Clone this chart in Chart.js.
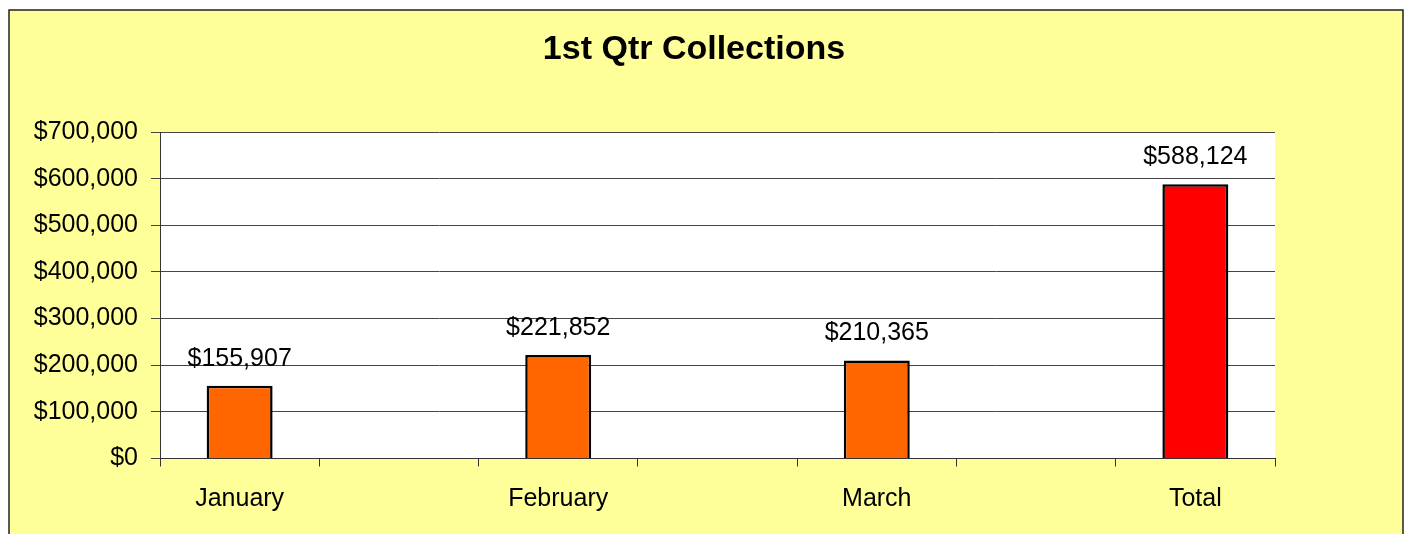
<!DOCTYPE html>
<html>
<head>
<meta charset="utf-8">
<script src="https://cdn.jsdelivr.net/npm/chart.js"></script>
<style>
  html, body { margin: 0; padding: 0; background: #fff; }
  #wrap { width: 1405px; height: 534px; position: relative; }
</style>
</head>
<body>
<div id="wrap"><canvas id="chart"></canvas></div>
<script>
// data
const chartTitle = '1st Qtr Collections';
const categories = ['January', 'February', 'March', 'Total'];
const collections = [155907, 221852, 210365, 588124];
const barColors = ['#FF6600', '#FF6600', '#FF6600', '#FF0000'];
const yTicks = [0, 100000, 200000, 300000, 400000, 500000, 600000, 700000];

// the original sheet leaves an empty column between each month
const labels = [];
const values = [];
const colors = [];
categories.forEach((c, i) => {
    if (i > 0) { labels.push(''); values.push(null); colors.push('#FF6600'); }
    labels.push(c);
    values.push(collections[i]);
    colors.push(barColors[i]);
});

const FONT = '"Liberation Sans", Arial, sans-serif';
const money = v => '$' + v.toLocaleString('en-US');

const frame = {
    id: 'frame',
    beforeDraw(chart) {
        const ctx = chart.ctx;
        ctx.save();
        ctx.fillStyle = '#FFFF99';
        ctx.fillRect(9, 10, 1394, 530);
        ctx.strokeStyle = '#222';
        ctx.lineWidth = 1.5;
        ctx.strokeRect(9, 10, 1394, 530);
        const a = chart.chartArea;
        ctx.fillStyle = '#FFFFFF';
        ctx.fillRect(a.left, a.top, a.right - a.left, a.bottom - a.top);
        // title, centred on the sheet frame
        ctx.fillStyle = '#000';
        ctx.font = 'bold 34px ' + FONT;
        ctx.textAlign = 'center';
        ctx.textBaseline = 'middle';
        ctx.fillText(chartTitle, 694, 50);
        ctx.restore();
    }
};

const valueLabels = {
    id: 'valueLabels',
    afterDatasetsDraw(chart) {
        const ctx = chart.ctx;
        const meta = chart.getDatasetMeta(0);
        ctx.save();
        ctx.font = '25px ' + FONT;
        ctx.fillStyle = '#000';
        ctx.textAlign = 'center';
        ctx.textBaseline = 'middle';
        meta.data.forEach((bar, i) => {
            const v = values[i];
            if (v == null) return;
            ctx.fillText(money(v), bar.x, bar.y - 27);
        });
        ctx.restore();
    }
};

new Chart(document.getElementById('chart'), {
    type: 'bar',
    data: {
        labels: labels,
        datasets: [{
            data: values,
            backgroundColor: colors,
            borderColor: '#000',
            borderWidth: 2.5,
            barPercentage: 0.414,
            categoryPercentage: 1
        }]
    },
    options: {
        responsive: true,
        maintainAspectRatio: false,
        animation: false,
        layout: { padding: { left: 0, right: 130, top: 132, bottom: 0 } },
        plugins: {
            legend: { display: false },
            tooltip: { enabled: false },
            title: { display: false }
        },
        scales: {
            x: {
                offset: true,
                grid: {
                    offset: true,
                    drawOnChartArea: false,
                    drawTicks: true,
                    tickLength: 8,
                    color: '#333'
                },
                border: { color: '#333', width: 1 },
                ticks: {
                    color: '#000',
                    padding: 18,
                    autoSkip: false,
                    maxRotation: 0,
                    font: { family: FONT, size: 25 }
                },
                afterFit(scale) { scale.height = 75.5; }
            },
            y: {
                min: 0,
                max: 700000,
                afterBuildTicks(scale) { scale.ticks = yTicks.map(v => ({ value: v })); },
                grid: { color: '#444', tickLength: 9, lineWidth: 1 },
                border: { color: '#333', width: 1 },
                ticks: {
                    color: '#000',
                    padding: 13,
                    font: { family: FONT, size: 25 },
                    callback: v => money(v)
                },
                afterFit(scale) { scale.width = 160; }
            }
        }
    },
    plugins: [frame, valueLabels]
});
</script>
</body>
</html>
